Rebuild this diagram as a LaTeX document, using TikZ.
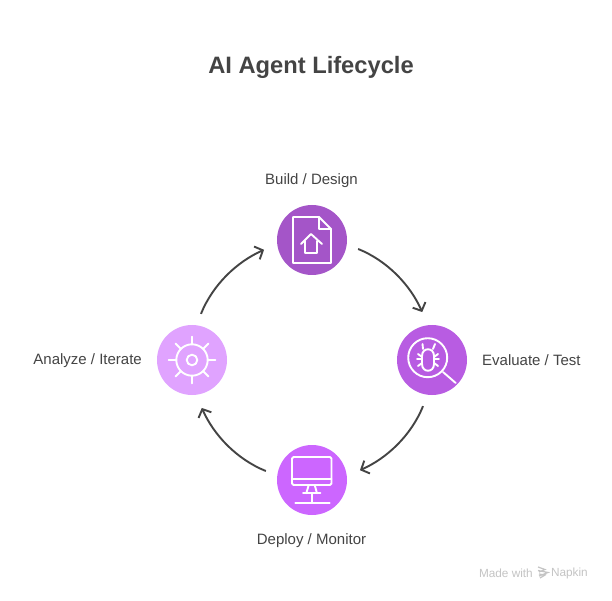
\documentclass[tikz,border=0pt]{standalone}
\usepackage{fontspec}
\setmainfont{Liberation Sans}
\usetikzlibrary{arrows.meta}
\definecolor{inkgray}{HTML}{444444}
\definecolor{markgray}{HTML}{C4C4C4}
\definecolor{buildpurple}{HTML}{A455C8}
\definecolor{evalpurple}{HTML}{B85CE2}
\definecolor{deploypurple}{HTML}{CC66FF}
\definecolor{analyzepurple}{HTML}{E0A3FF}
\tikzset{
  stage/.style={circle,minimum size=70pt,inner sep=0pt,outer sep=12pt},
  flow/.style={draw=inkgray,line width=1.9pt,looseness=0.88,shorten >=2pt,-{Straight Barb[length=6.5pt,width=14pt,line width=1.9pt]}},
  stagelabel/.style={text=inkgray,inner sep=0pt,font=\fontsize{15}{18}\selectfont},
  marklabel/.style={text=markgray,inner sep=0pt,anchor=east,font=\fontsize{11.8}{14}\selectfont},
  icon/.style={draw=white,line width=1.9pt,line cap=round,line join=round},
}
\begin{document}
\begin{tikzpicture}[x=1pt,y=1pt]
\useasboundingbox (0,0) rectangle (612,600);
\fill[white] (0,0) rectangle (612,600);
\node[text=inkgray,font=\fontsize{23.7}{28}\bfseries] (title) at (311,533) {AI Agent Lifecycle};
\node[stage,fill=buildpurple] (build) at (312,360) {};
\node[stage,fill=evalpurple] (evaluate) at (432,240) {};
\node[stage,fill=deploypurple] (deploy) at (312,120) {};
\node[stage,fill=analyzepurple] (analyze) at (192,240) {};
\node[stagelabel] (buildlabel) at (311.5,419.5) {Build / Design};
\node[stagelabel,anchor=west] (evaluatelabel) at (482,239.5) {Evaluate / Test};
\node[stagelabel] (deploylabel) at (311.5,59.5) {Deploy / Monitor};
\node[stagelabel,anchor=east] (analyzelabel) at (142,239.5) {Analyze / Iterate};
\draw[flow] (build.-11) to[out=-22,in=114] (evaluate.101);
\draw[flow] (evaluate.-101) to[out=-112,in=24] (deploy.11);
\draw[flow] (deploy.169) to[out=158,in=-66] (analyze.-79);
\draw[flow] (analyze.79) to[out=68,in=204] (build.191);
% icons, in page pixels
\begin{scope}[shift={(0,600)},yscale=-1]
% document with house
\draw[icon] (293,217) -- (319,217) -- (331,229) -- (331,263) -- (293,263) -- cycle;
\draw[icon] (319,217) -- (319,229) -- (331,229);
\draw[icon] (301,244) -- (311,234) -- (322,244);
\draw[icon] (305,241) -- (305,253) -- (317,253) -- (317,241);
% bug under a lens
\draw[icon] (427.7,357.7) circle (19.5);
\draw[icon] (443,372) -- (455.7,383);
\draw[icon] (422,356) .. controls (422,347) and (434,347) .. (434,356) -- (434,364) .. controls (434,373) and (422,373) .. (422,364) -- cycle;
\draw[icon] (423,349) -- (422.5,344) (433,349) -- (435,344);
\draw[icon] (422,357) -- (418,354) (422,359) -- (417,359) (422,363) -- (418,366);
\draw[icon] (434,357) -- (438,354) (434,359) -- (439,359) (434,363) -- (438,366);
% monitor
\draw[icon,rounded corners=1.5pt] (292,457) rectangle (331.5,485);
\draw[icon] (292,479) -- (331.5,479);
\draw[icon] (308.7,485) -- (306.3,493.3) (314.7,485) -- (317,493.3);
\draw[icon] (303,493.3) -- (320.3,493.3);
\draw[icon] (311.7,493.3) -- (311.7,502.7);
\draw[icon] (295.3,502.7) -- (329.7,502.7);
% gear
\draw[icon] (192,360) circle (15.7);
\draw[icon] (192,360) circle (5.3);
\foreach \ang in {0,45,...,315}
  \draw[icon] (192,360) ++(\ang:15.7) -- ++(\ang:7.6);
% mark
\draw[markgray,line width=1.2pt] (538,567) -- (545,569.5) -- (539,572) (538,570.5) -- (548,572.5) -- (539,576) (539,574) -- (545,575) -- (540,578);
\end{scope}
\node[marklabel] (madewith) at (533,27) {Made with};
\node[marklabel] (napkin) at (588,27) {Napkin};
\end{tikzpicture}
\end{document}
